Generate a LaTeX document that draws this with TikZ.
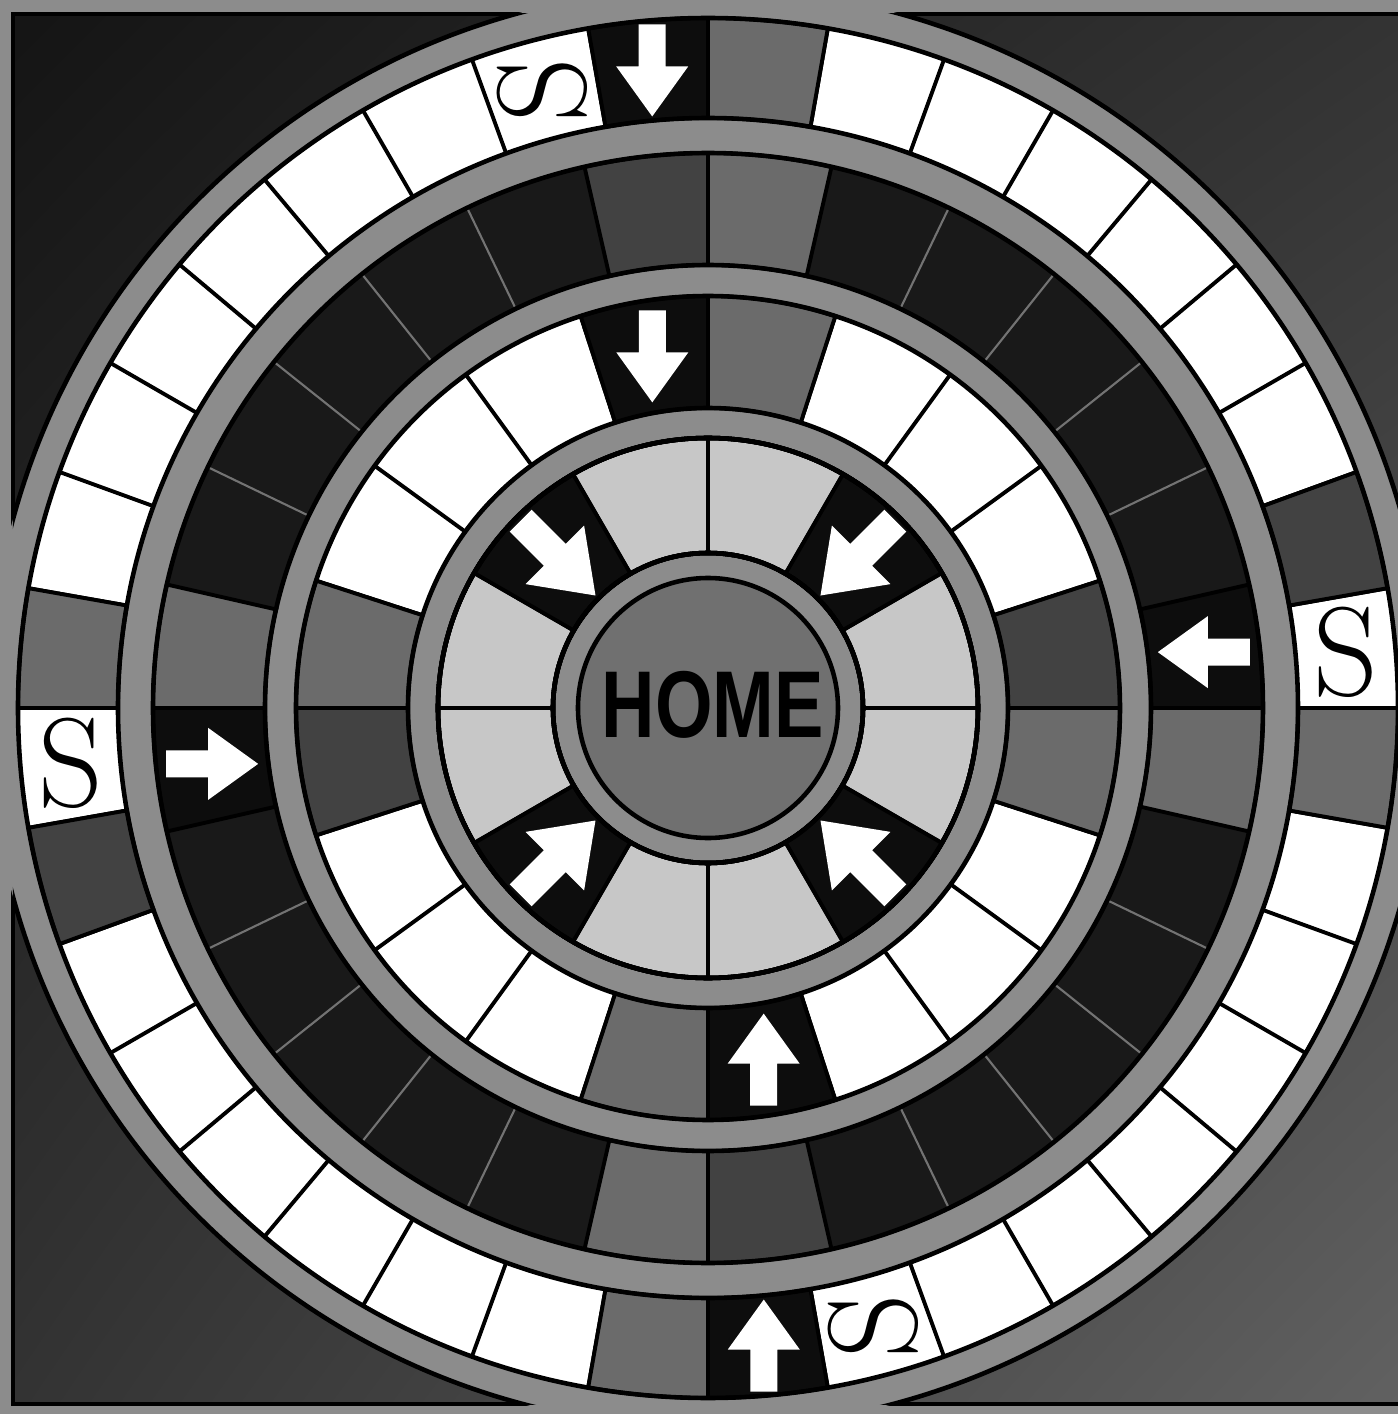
\documentclass[tikz,border=0pt]{standalone}
\usepackage{fontspec}
\usepackage{graphicx}
\usetikzlibrary{shadings}
\newfontfamily\homefont{Liberation Sans}

\colorlet{bandgray}{black!45}
\colorlet{cellgray}{black!58}
\colorlet{darkcell}{black!74}
\colorlet{nightcell}{black!90}
\colorlet{palecell}{black!22}
\colorlet{homegray}{black!56}

% one square of a track: inner radius, outer radius, start angle, end angle, style
\newcommand\ringcell[5]{\path[#5] (#3:#1) arc[start angle=#3, end angle=#4, radius=#1]
  -- (#4:#2) arc[start angle=#4, end angle=#3, radius=#2] -- cycle;}
% white block arrow: centre, direction, size
\newcommand\pointer[3]{\fill[white, shift={(#1)}, rotate=#2, scale=#3]
  (-0.46,-0.135) -- (-0.04,-0.135) -- (-0.04,-0.36) -- (0.46,0)
  -- (-0.04,0.36) -- (-0.04,0.135) -- (-0.46,0.135) -- cycle;}

\begin{document}
\begin{tikzpicture}[
  line width=1.1pt,
  graycell/.style={fill=cellgray, draw=black},
  darkgraycell/.style={fill=darkcell, draw=black},
  arrowcell/.style={fill=black!95, draw=black},
  rimline/.style={draw=black, line width=1.3pt},
  spoke/.style={draw=black, line width=1.1pt},
  faintspoke/.style={draw=black!55, line width=0.6pt},
  sletter/.style={font=\fontsize{36}{36}\selectfont, inner sep=0pt}]
  \useasboundingbox (-7.08,-7.06) rectangle (6.90,7.08);

  % frame and dark corners
  \fill[bandgray] (-7.08,-7.06) rectangle (6.90,7.08);
  \shade[upper left=black!92, upper right=black!80, lower left=black!80, lower right=black!62]
    (-6.95,-6.96) rectangle (6.90,6.94);
  \draw[rimline] (6.90,-6.96) -- (-6.95,-6.96) -- (-6.95,6.94) -- (6.90,6.94);

  % the board disc
  \fill[bandgray] (0,0) circle (7.20);
  \begin{scope}
    \clip (-6.95,-6.96) rectangle (6.90,6.94);
    \draw[rimline] (0,0) circle (7.20);
  \end{scope}

  % outer track, 36 squares
  \fill[white, even odd rule] (0,0) circle (6.90) (0,0) circle (5.90);
  \foreach \a in {0,10,...,350} \draw[spoke] (\a:5.90) -- (\a:6.90);
  \ringcell{5.90}{6.90}{10}{20}{darkgraycell}
  \ringcell{5.90}{6.90}{190}{200}{darkgraycell}
  \ringcell{5.90}{6.90}{80}{90}{graycell}
  \ringcell{5.90}{6.90}{170}{180}{graycell}
  \ringcell{5.90}{6.90}{260}{270}{graycell}
  \ringcell{5.90}{6.90}{350}{360}{graycell}
  \ringcell{5.90}{6.90}{90}{100}{arrowcell}
  \ringcell{5.90}{6.90}{270}{280}{arrowcell}
  \draw[rimline] (0,0) circle (6.90) (0,0) circle (5.90);
  \pointer{95:6.40}{-90}{1}
  \pointer{275:6.40}{90}{1}
  \node[sletter] (s1) at (5:6.40) {S};
  \node[sletter, rotate=90] (s2) at (105:6.40) {S};
  \node[sletter] (s3) at (185:6.40) {S};
  \node[sletter, rotate=90] (s4) at (285:6.40) {S};

  % second track, 28 squares
  \fill[nightcell, even odd rule] (0,0) circle (5.55) (0,0) circle (4.43);
  \foreach \k in {0,...,27} \draw[faintspoke] ({\k*360/28}:4.43) -- ({\k*360/28}:5.55);
  \ringcell{4.43}{5.55}{77.143}{90}{graycell}
  \ringcell{4.43}{5.55}{167.143}{180}{graycell}
  \ringcell{4.43}{5.55}{257.143}{270}{graycell}
  \ringcell{4.43}{5.55}{347.143}{360}{graycell}
  \ringcell{4.43}{5.55}{90}{102.857}{darkgraycell}
  \ringcell{4.43}{5.55}{270}{282.857}{darkgraycell}
  \ringcell{4.43}{5.55}{0}{12.857}{arrowcell}
  \ringcell{4.43}{5.55}{180}{192.857}{arrowcell}
  \draw[rimline] (0,0) circle (5.55) (0,0) circle (4.43);
  \pointer{6.43:4.99}{180}{1}
  \pointer{186.43:4.99}{0}{1}

  % third track, 20 squares
  \fill[white, even odd rule] (0,0) circle (4.12) (0,0) circle (3.00);
  \foreach \a in {0,18,...,342} \draw[spoke] (\a:3.00) -- (\a:4.12);
  \ringcell{3.00}{4.12}{0}{18}{darkgraycell}
  \ringcell{3.00}{4.12}{180}{198}{darkgraycell}
  \ringcell{3.00}{4.12}{72}{90}{graycell}
  \ringcell{3.00}{4.12}{162}{180}{graycell}
  \ringcell{3.00}{4.12}{252}{270}{graycell}
  \ringcell{3.00}{4.12}{342}{360}{graycell}
  \ringcell{3.00}{4.12}{90}{108}{arrowcell}
  \ringcell{3.00}{4.12}{270}{288}{arrowcell}
  \draw[rimline] (0,0) circle (4.12) (0,0) circle (3.00);
  \pointer{99:3.56}{-90}{1}
  \pointer{279:3.56}{90}{1}

  % inner track, 12 squares
  \fill[palecell, even odd rule] (0,0) circle (2.70) (0,0) circle (1.55);
  \foreach \a in {0,30,...,330} \draw[spoke] (\a:1.55) -- (\a:2.70);
  \foreach \a in {30,120,210,300} \ringcell{1.55}{2.70}{\a}{\a+30}{arrowcell}
  \draw[rimline] (0,0) circle (2.70) (0,0) circle (1.55);
  \pointer{45:2.12}{225}{1.15}
  \pointer{135:2.12}{-45}{1.15}
  \pointer{225:2.12}{45}{1.15}
  \pointer{315:2.12}{135}{1.15}

  % home
  \fill[homegray] (0,0) circle (1.30);
  \draw[rimline] (0,0) circle (1.30);
  \node[inner sep=0pt] (home) at (0.05,0.03)
    {\homefont\bfseries\fontsize{27}{27}\selectfont\scalebox{0.78}[1]{HOME}};
\end{tikzpicture}
\end{document}
